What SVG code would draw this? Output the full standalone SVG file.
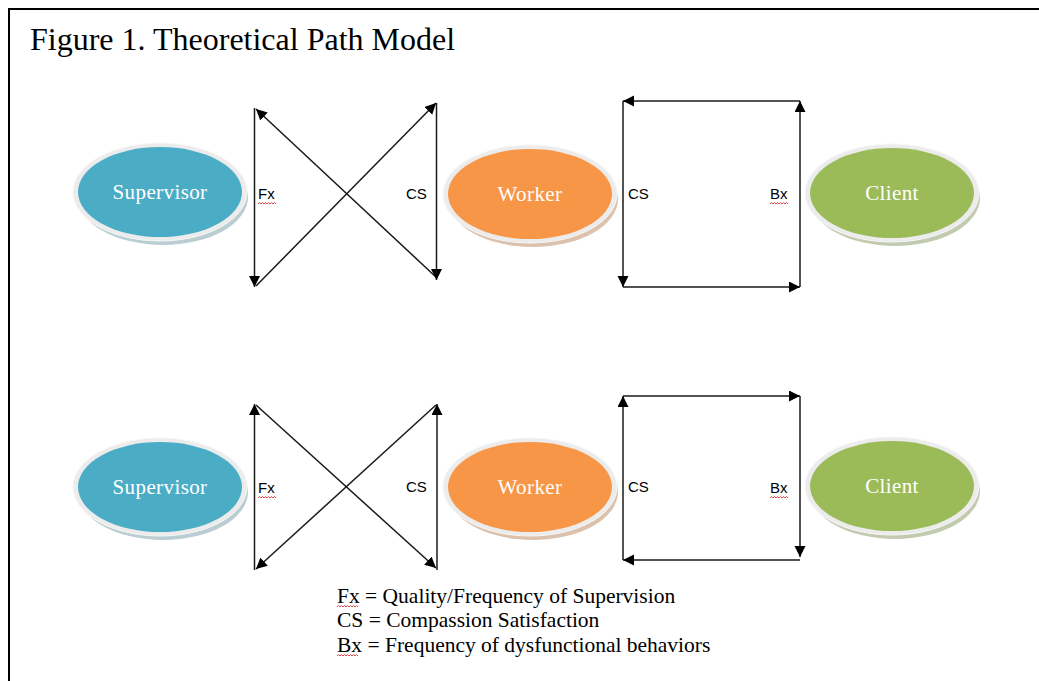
<svg xmlns="http://www.w3.org/2000/svg" width="1039" height="681" viewBox="0 0 1039 681">
<style>
.frame{fill:none;stroke:#000;stroke-width:2}
.title{font-family:"Liberation Serif","Times New Roman",serif;font-size:32px;fill:#000}
.node-text{font-family:"Liberation Serif","Times New Roman",serif;font-size:21px;fill:#fff;text-anchor:middle;letter-spacing:0.4px}
.lbl{font-family:"Liberation Sans",Arial,sans-serif;font-size:15px;fill:#000}
.legend{font-family:"Liberation Serif","Times New Roman",serif;font-size:21.5px;fill:#000}
.conn line{stroke:#1a1a1a;stroke-width:1.5;marker-end:url(#arr)}
.ring{fill:#ececec;stroke:#f7f7f7;stroke-width:1}
.shadow{opacity:0.55}
.spell{fill:none;stroke:#e03030;stroke-width:0.9}
</style>
<defs>
<marker id="arr" markerUnits="userSpaceOnUse" markerWidth="13" markerHeight="12" refX="11" refY="5.5" orient="auto">
<path d="M0,0 L11,5.5 L0,11 Z" fill="#000"/>
</marker>
</defs>
<rect width="1039" height="681" fill="#fff"/>
<path class="frame" d="M9,681 L9,9 L1039,9"/>
<text class="title" x="30" y="50">Figure 1. Theoretical Path Model</text>

<g id="supervisor-1">
<ellipse class="shadow" cx="163" cy="197" rx="85" ry="48" fill="#7fa4ad"/>
<ellipse class="ring" cx="160" cy="192" rx="87" ry="49"/>
<ellipse cx="160" cy="192" rx="82" ry="45" fill="#4bacc6"/>
<text class="node-text" x="160" y="199">Supervisor</text>
</g>
<g id="worker-1">
<ellipse class="shadow" cx="533" cy="199" rx="85" ry="48" fill="#c0906a"/>
<ellipse class="ring" cx="530" cy="194" rx="87" ry="49"/>
<ellipse cx="530" cy="194" rx="82" ry="45" fill="#f79646"/>
<text class="node-text" x="530" y="201">Worker</text>
</g>
<g id="client-1">
<ellipse class="shadow" cx="895" cy="198" rx="85" ry="48" fill="#8fa070"/>
<ellipse class="ring" cx="892" cy="193" rx="87" ry="49"/>
<ellipse cx="892" cy="193" rx="82" ry="45" fill="#9bbb59"/>
<text class="node-text" x="892" y="200">Client</text>
</g>

<g id="supervisor-2">
<ellipse class="shadow" cx="163" cy="492" rx="85" ry="48" fill="#7fa4ad"/>
<ellipse class="ring" cx="160" cy="487" rx="87" ry="49"/>
<ellipse cx="160" cy="487" rx="82" ry="45" fill="#4bacc6"/>
<text class="node-text" x="160" y="494">Supervisor</text>
</g>
<g id="worker-2">
<ellipse class="shadow" cx="533" cy="492" rx="85" ry="48" fill="#c0906a"/>
<ellipse class="ring" cx="530" cy="487" rx="87" ry="49"/>
<ellipse cx="530" cy="487" rx="82" ry="45" fill="#f79646"/>
<text class="node-text" x="530" y="494">Worker</text>
</g>
<g id="client-2">
<ellipse class="shadow" cx="895" cy="491" rx="85" ry="48" fill="#8fa070"/>
<ellipse class="ring" cx="892" cy="486" rx="87" ry="49"/>
<ellipse cx="892" cy="486" rx="82" ry="45" fill="#9bbb59"/>
<text class="node-text" x="892" y="493">Client</text>
</g>

<g id="connectors" class="conn">
<line x1="254.5" y1="108" x2="254.5" y2="287"/>
<line x1="437" y1="278" x2="256" y2="109"/>
<line x1="256" y1="286" x2="436" y2="103"/>
<line x1="436.5" y1="103" x2="436.5" y2="280"/>
<line x1="800" y1="101" x2="623" y2="101"/>
<line x1="800" y1="287" x2="800" y2="101"/>
<line x1="623" y1="101" x2="623" y2="287"/>
<line x1="623" y1="287" x2="800" y2="287"/>
<line x1="254.5" y1="570" x2="254.5" y2="404"/>
<line x1="256" y1="405" x2="436" y2="568"/>
<line x1="436" y1="405" x2="256" y2="569"/>
<line x1="437" y1="570" x2="437" y2="404"/>
<line x1="623" y1="396" x2="800" y2="396"/>
<line x1="623" y1="560" x2="623" y2="396"/>
<line x1="800" y1="396" x2="800" y2="557"/>
<line x1="800" y1="560" x2="623" y2="560"/>
</g>

<g id="labels">
<text class="lbl" x="258" y="199">Fx</text>
<text class="lbl" x="406" y="199">CS</text>
<text class="lbl" x="628" y="199">CS</text>
<text class="lbl" x="770" y="199">Bx</text>
<text class="lbl" x="258" y="493">Fx</text>
<text class="lbl" x="406" y="492">CS</text>
<text class="lbl" x="628" y="492">CS</text>
<text class="lbl" x="770" y="493">Bx</text>
</g>

<g id="legend">
<text class="legend" x="337" y="603">Fx = Quality/Frequency of Supervision</text>
<text class="legend" x="337" y="627">CS = Compassion Satisfaction</text>
<text class="legend" x="337" y="652">Bx = Frequency of dysfunctional behaviors</text>
</g>

<g id="spellcheck">
<path class="spell" d="M258,204 l1.5,-1.5 l1.5,1.5 l1.5,-1.5 l1.5,1.5 l1.5,-1.5 l1.5,1.5 l1.5,-1.5 l1.5,1.5 l1.5,-1.5 l1.5,1.5 l1.5,-1.5 l1.5,1.5"/>
<path class="spell" d="M770,204 l1.5,-1.5 l1.5,1.5 l1.5,-1.5 l1.5,1.5 l1.5,-1.5 l1.5,1.5 l1.5,-1.5 l1.5,1.5 l1.5,-1.5 l1.5,1.5 l1.5,-1.5 l1.5,1.5"/>
<path class="spell" d="M258,498 l1.5,-1.5 l1.5,1.5 l1.5,-1.5 l1.5,1.5 l1.5,-1.5 l1.5,1.5 l1.5,-1.5 l1.5,1.5 l1.5,-1.5 l1.5,1.5 l1.5,-1.5 l1.5,1.5"/>
<path class="spell" d="M770,498 l1.5,-1.5 l1.5,1.5 l1.5,-1.5 l1.5,1.5 l1.5,-1.5 l1.5,1.5 l1.5,-1.5 l1.5,1.5 l1.5,-1.5 l1.5,1.5 l1.5,-1.5 l1.5,1.5"/>
<path class="spell" d="M337,607 l1.5,-1.5 l1.5,1.5 l1.5,-1.5 l1.5,1.5 l1.5,-1.5 l1.5,1.5 l1.5,-1.5 l1.5,1.5 l1.5,-1.5 l1.5,1.5 l1.5,-1.5 l1.5,1.5 l1.5,-1.5 l1.5,1.5"/>
<path class="spell" d="M337,656 l1.5,-1.5 l1.5,1.5 l1.5,-1.5 l1.5,1.5 l1.5,-1.5 l1.5,1.5 l1.5,-1.5 l1.5,1.5 l1.5,-1.5 l1.5,1.5 l1.5,-1.5 l1.5,1.5 l1.5,-1.5 l1.5,1.5"/>
</g>
</svg>
